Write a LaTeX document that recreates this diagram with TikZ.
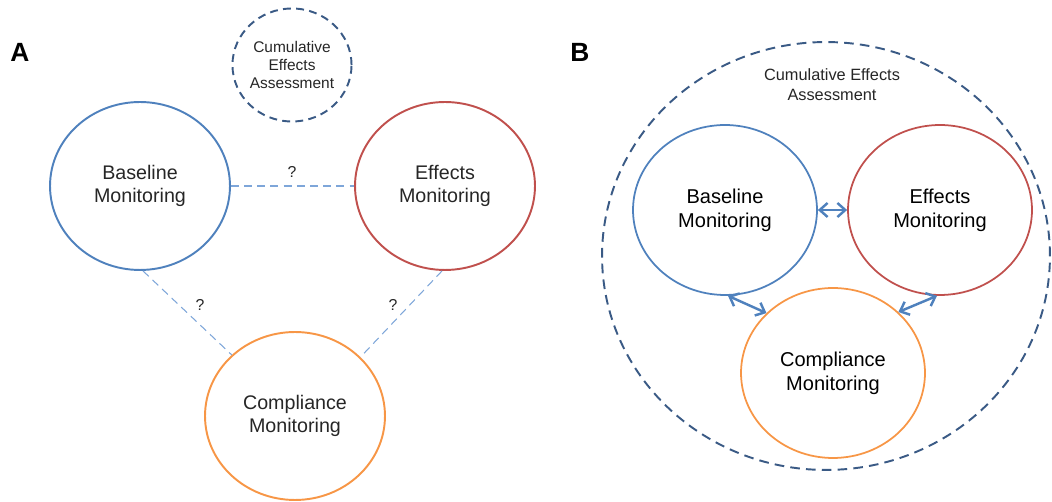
\documentclass[tikz,border=0pt]{standalone}
\usepackage{fontspec}
\setmainfont{Liberation Sans}
\usetikzlibrary{shapes.geometric,arrows.meta}
\definecolor{monblue}{HTML}{4F81BD}
\definecolor{monred}{HTML}{C0504D}
\definecolor{monorange}{HTML}{F79646}
\definecolor{ceadark}{HTML}{3A5A85}
\definecolor{linkblue}{HTML}{7EA6D9}
\definecolor{txtgrey}{HTML}{262626}
\begin{document}
\begin{tikzpicture}[x=0.02cm,y=-0.02cm]
	\tikzset{monA/.style={ellipse, draw, line width=1.1pt, inner sep=0pt, minimum width=3.6cm, minimum height=3.36cm, align=center, text=txtgrey, font=\fontsize{11.2}{13.4}\selectfont},
		monB/.style={ellipse, draw, line width=1pt, inner sep=0pt, minimum width=3.68cm, minimum height=3.4cm, align=center, font=\fontsize{11.4}{13.8}\selectfont},
		link/.style={draw=linkblue, line width=0.6pt, dash pattern=on 4.5pt off 3pt},
		query/.style={text=txtgrey, font=\fontsize{9}{11}\selectfont},
		both/.style={<->, >={Straight Barb[length=4.5pt,width=8pt]}, draw=monblue, line width=1.4pt},
		panel/.style={font=\fontsize{15}{18}\selectfont\bfseries}}
	\useasboundingbox (0,0) rectangle (1052,502);

	% Panel A
	\node[panel] at (20,52) (labA) {A};
	\node[ellipse, draw=ceadark, line width=1.1pt, dash pattern=on 4.5pt off 3pt, inner sep=0pt, minimum width=2.36cm, minimum height=2.26cm, align=center, text=txtgrey, font=\fontsize{8.8}{10.3}\selectfont] at (292,65) (ceaA) {Cumulative\\Effects\\Assessment};
	\node[monA, draw=monblue] at (140,186) (baseA) {Baseline\\Monitoring};
	\node[monA, draw=monred] at (445,186) (effA) {Effects\\Monitoring};
	\node[monA, draw=monorange] at (295,416) (compA) {Compliance\\Monitoring};

	% Dashed links
	\draw[link] (baseA.east) -- (effA.west);
	\draw[link] (baseA.-88) -- (compA.136);
	\draw[link] (effA.-92) -- (compA.42);
	\node[query] at (292,172) (q1) {?};
	\node[query] at (200,305) (q2) {?};
	\node[query] at (393,305) (q3) {?};

	% Panel B
	\node[panel] at (580,52) (labB) {B};
	\node[ellipse, draw=ceadark, line width=1.1pt, dash pattern=on 5.5pt off 3.5pt, inner sep=0pt, minimum width=8.96cm, minimum height=8.56cm] at (826,256) (ceaB) {};
	\node[align=center, text=txtgrey, font=\fontsize{9.3}{11.4}\selectfont] at (832,85) (ceatxt) {Cumulative Effects\\Assessment};
	\node[monB, draw=monblue] at (725,210) (baseB) {Baseline\\Monitoring};
	\node[monB, draw=monred] at (940,210) (effB) {Effects\\Monitoring};
	\node[monB, draw=monorange] at (833,373) (compB) {Compliance\\Monitoring};

	% Two-way arrows
	\draw[both] (baseB.east) -- (effB.west);
	\draw[both] (baseB.-88) -- (compB.138);
	\draw[both] (effB.-92) -- (compB.43);
\end{tikzpicture}
\end{document}
